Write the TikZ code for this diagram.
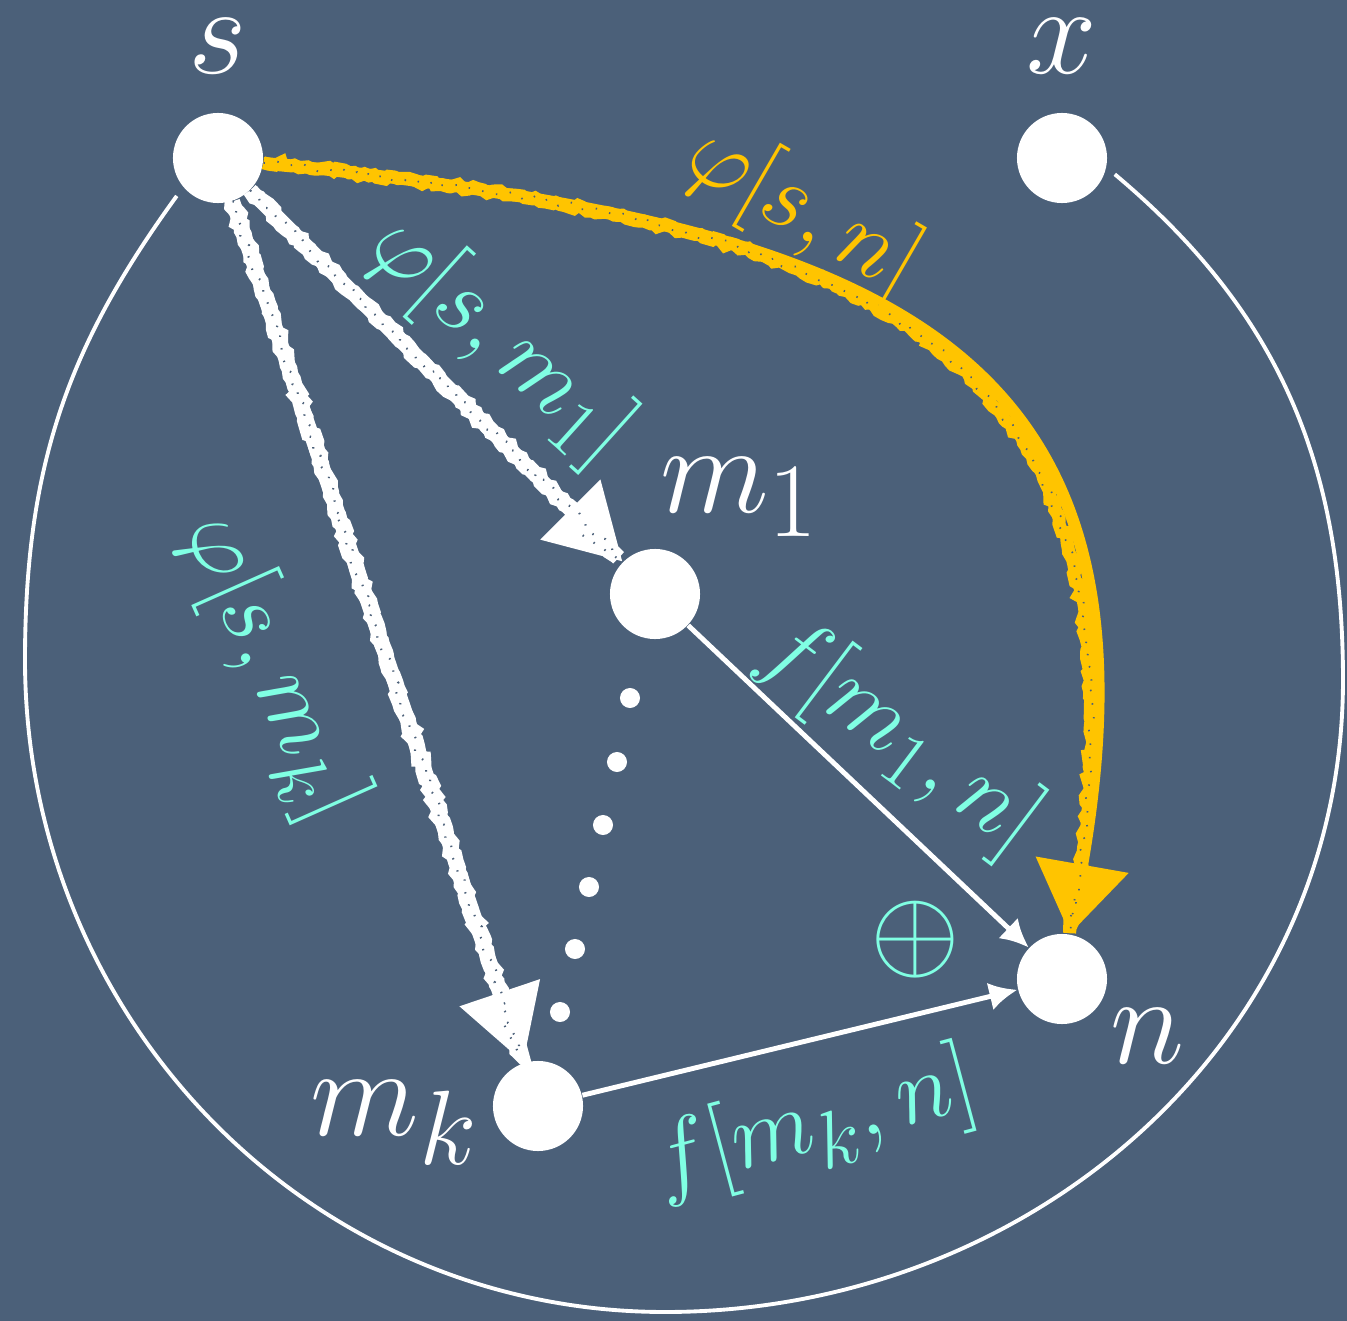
\documentclass[tikz,border=0pt]{standalone}
\usetikzlibrary{arrows.meta,positioning,decorations.pathmorphing}
\definecolor{board}{HTML}{4B6079}
\definecolor{aqua}{HTML}{80FFE3}
\definecolor{gold}{HTML}{FFC400}
\tikzset{
  >=Latex,
  vertex/.style={circle,fill=white,draw=none,minimum size=9mm,inner sep=0pt},
  vlabel/.style={text=white,inner sep=0pt,font=\Huge,scale=1.45},
  wlabel/.style={text=aqua,inner sep=0pt,font=\Huge,scale=1.1},
  chalk/.style={line width=#1,draw=white,-{Triangle[length=21pt,width=23pt]},
    postaction={draw=white,-,decorate,decoration={random steps,segment length=1.5pt,amplitude=0.7pt},line width=#1+0.3pt,shorten >=14pt},
    postaction={draw=board,-,decorate,decoration={random steps,segment length=2pt,amplitude=1.2pt},line width=0.6pt,dash pattern=on 0.4pt off 3.3pt,shorten >=14pt}},
  goldchalk/.style={line width=3.4pt,draw=gold,-{Triangle[length=20pt,width=26pt]},
    postaction={draw=gold,-,decorate,decoration={random steps,segment length=1.5pt,amplitude=0.7pt},line width=3.7pt,shorten >=14pt},
    postaction={draw=board,-,decorate,decoration={random steps,segment length=2pt,amplitude=1pt},line width=0.5pt,dash pattern=on 0.4pt off 3.6pt,shorten >=14pt}},
  thinarr/.style={line width=1.4pt,draw=white,-{Latex[length=8pt,width=8pt]}},
  rim/.style={line width=1.1pt,draw=white,shorten <=3pt,shorten >=3pt},
}
\begin{document}
\begin{tikzpicture}[x=0.01cm,y=0.01cm]
\useasboundingbox (0,0) rectangle (1347,-1321);
\fill[board] (0,0) rectangle (1347,-1321);

% vertices
\node[vertex] (s) at (218,-158) {};
\node[vertex] (x) at (1062,-158) {};
\node[vertex] (m1) at (655,-594) {};
\node[vertex] (mk) at (538,-1106) {};
\node[vertex] (n) at (1062,-979) {};

% outline of the region
\coordinate (west) at (25,-660);
\coordinate (south) at (665,-1312);
\coordinate (east) at (1343,-680);
\draw[rim] (s.220) to[out=234,in=90] (west) to[out=-90,in=180] (south)
  to[out=0,in=-90] (east) to[out=90,in=-40] (x.-12);

% dots between m_1 and m_k
\foreach \px/\py in {630/698,617/762,603/825,589/887,575/949,560/1012}
  \fill[white] (\px,-\py) circle (1mm);

% edges
\draw[chalk=4.2pt] (s) -- (m1);
\draw[chalk=4.2pt] (s) -- (mk);
\draw[goldchalk] (s) to[out=-6,in=80,looseness=1.4] (n);
\draw[thinarr] (m1) -- (n);
\draw[thinarr] (mk) -- (n);

% labels
\node[vlabel,above=3.8mm of s] (slbl) {$s$};
\node[vlabel,above=3.8mm of x] (xlbl) {$x$};
\node[vlabel,anchor=base] (m1lbl) at (740,-512) {$m_1$};
\node[vlabel,anchor=base] (mklbl) at (395,-1135) {$m_k$};
\node[vlabel,anchor=base] (nlbl) at (1148,-1063) {$n$};
\node[wlabel,scale=1.2] (oplus) at (915,-940) {$\oplus$};
\node[wlabel,text=gold,rotate=-30] (phisn) at (803,-212) {$\varphi[s,n]$};
\node[wlabel,rotate=-42] (phism1) at (500,-340) {$\varphi[s,m_1]$};
\node[wlabel,rotate=-66] (phismk) at (272,-668) {$\varphi[s,m_k]$};
\node[wlabel,rotate=-37] (fm1n) at (900,-737) {$f[m_1,n]$};
\node[wlabel,rotate=15] (fmkn) at (815,-1125) {$f[m_k,n]$};
\end{tikzpicture}
\end{document}
